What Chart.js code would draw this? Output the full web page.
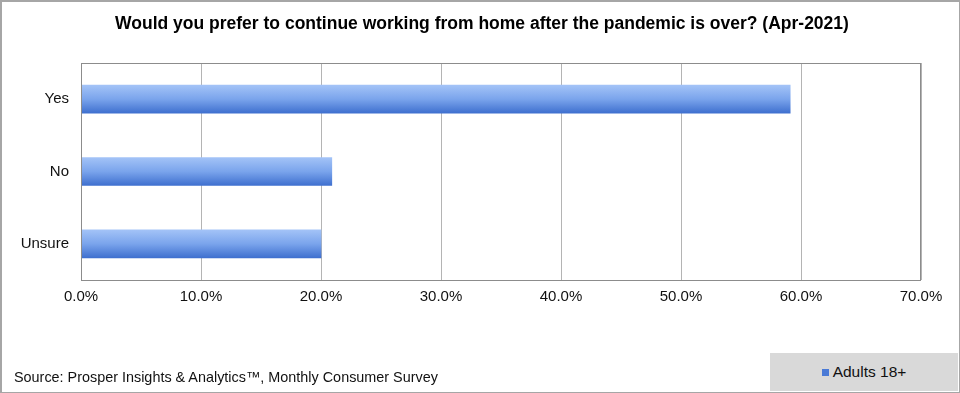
<!DOCTYPE html>
<html>
<head>
<meta charset="utf-8">
<script src="https://cdn.jsdelivr.net/npm/chart.js@4/dist/chart.umd.min.js"></script>
<style>
  html, body { margin: 0; padding: 0; background: #fff; }
  #wrap { position: relative; width: 960px; height: 393px; }
  #frame { position: absolute; left: 0; top: 0; width: 957px; height: 390px; border: 2px solid #a6a6a6; box-sizing: content-box; pointer-events: none; }
  #title { position: absolute; left: 0; width: 964px; top: 13px; text-align: center; font: bold 17.5px "Liberation Sans", Arial, sans-serif; color: #000; }
  #source { position: absolute; left: 14px; top: 369px; font: 14.4px "Liberation Sans", Arial, sans-serif; color: #111; }
  #legend { position: absolute; left: 770px; top: 353px; width: 188px; height: 38px; background: #d9d9d9;
            font: 15.5px "Liberation Sans", Arial, sans-serif; color: #111; display: flex; align-items: center; justify-content: center; }
  #legend span.sw { display: inline-block; width: 7px; height: 7px; background: #4a7ad6; margin-right: 4px; }
</style>
</head>
<body>
<div id="wrap">
  <canvas id="bar-chart" width="960" height="393"></canvas>
  <div id="frame"></div>
  <div id="title">Would you prefer to continue working from home after the pandemic is over? (Apr-2021)</div>
  <div id="source">Source: Prosper Insights &amp; Analytics™, Monthly Consumer Survey</div>
  <div id="legend"><span class="sw"></span>Adults 18+</div>
</div>
<script>
// Chart data
var categories = ["Yes", "No", "Unsure"];
var adults18 = [59.1, 20.9, 20.0];
var seriesName = "Adults 18+";

var ctx = document.getElementById("bar-chart");

// plot border box
var plotBorder = {
    id: "plotBorder",
    afterDraw: function(chart) {
        var a = chart.chartArea, c = chart.ctx;
        c.save();
        c.strokeStyle = "#8c8c8c";
        c.lineWidth = 1;
        c.strokeRect(a.left + 0.5, a.top + 0.5, a.right - a.left - 1, a.bottom - a.top);
        c.restore();
    }
};

// vertical gradient per bar, like the office style bars
function barFill(context) {
    var chart = context.chart, area = chart.chartArea;
    if (!area || !chart.scales.y) return "#5b8ae0";
    var h = 28;
    var y = chart.scales.y.getPixelForValue(context.dataIndex);
    var g = chart.ctx.createLinearGradient(0, y - h / 2, 0, y + h / 2);
    g.addColorStop(0, "#a3c3f7");
    g.addColorStop(0.5, "#7aa4ec");
    g.addColorStop(1, "#3f70cf");
    return g;
}

var chartData = {
    labels: categories,
    datasets: [{
        label: seriesName,
        data: adults18,
        backgroundColor: barFill,
        borderWidth: 0,
        barThickness: 28
    }]
};

var chartOptions = {
    indexAxis: "y",
    responsive: false,
    animation: false,
    layout: { padding: { left: 0, right: 39, top: 63, bottom: 73 } },
    plugins: {
        legend: { display: false },
        tooltip: { enabled: false },
        title: { display: false }
    },
    scales: {
        x: {
            min: 0,
            max: 70,
            ticks: {
                stepSize: 10,
                color: "#111",
                font: { family: "'Liberation Sans', Arial, sans-serif", size: 15 },
                padding: 8,
                callback: function(v) { return v.toFixed(1) + "%"; }
            },
            grid: { color: "#b4b4b4", drawTicks: false },
            border: { display: false },
            afterFit: function(s) { s.height = 40; }
        },
        y: {
            ticks: {
                color: "#111",
                font: { family: "'Liberation Sans', Arial, sans-serif", size: 15 },
                padding: 12
            },
            grid: { display: false, drawTicks: false },
            border: { display: false },
            afterFit: function(s) { s.width = 81; }
        }
    }
};

var barChart = new Chart(ctx, {
    type: "bar",
    data: chartData,
    options: chartOptions,
    plugins: [plotBorder]
});
</script>
</body>
</html>
